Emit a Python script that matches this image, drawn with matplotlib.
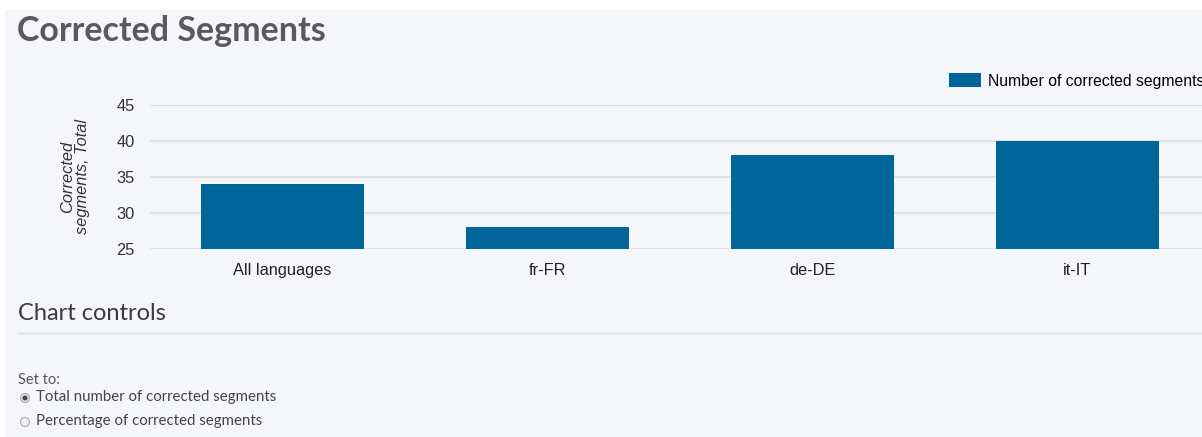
import matplotlib.pyplot as plt
from matplotlib.patches import Rectangle, Circle

languages = ["All languages", "fr-FR", "de-DE", "it-IT"]
corrected = [34, 28, 38, 40]
yticks = [25, 30, 35, 40, 45]
series_name = "Number of corrected segments"

W, H = 1202, 437
bg = "#f4f6f9"
bar_col = "#006699"
fs = 11.8

fig = plt.figure(figsize=(W / 100, H / 100), dpi=100, facecolor="white")

# page overlay in pixel coordinates
page = fig.add_axes([0, 0, 1, 1])
page.set_xlim(0, W)
page.set_ylim(H, 0)
page.axis("off")
page.add_patch(Rectangle((5, 10), W, H, color=bg, zorder=0))
page.text(17, 31, "Corrected Segments", fontsize=24.5, fontweight="bold",
          family="Lato", color="#5a5a5a", va="center")
page.text(18, 314, "Chart controls", fontsize=17, family="Lato",
          color="#3a3a3a", va="center")
page.plot([18, W], [333, 333], color="#dcdfe3", lw=1)
page.text(18, 380, "Set to:", fontsize=10.5, family="Lato", color="#555555", va="center")
page.add_patch(Circle((25, 398), 4.5, facecolor="#e8e8e8", edgecolor="#aaaaaa", lw=0.8))
page.add_patch(Circle((25, 398), 1.8, color="#444444"))
page.text(36, 397, "Total number of corrected segments", fontsize=10.8,
          family="Lato", color="#444444", va="center")
page.add_patch(Circle((25, 422), 4.5, facecolor="#eeeeee", edgecolor="#aaaaaa", lw=0.8))
page.text(36, 421, "Percentage of corrected segments", fontsize=10.8,
          family="Lato", color="#444444", va="center")

# bar chart
ax = fig.add_axes([150 / W, 1 - 249 / H, 1060 / W, 144 / H])
ax.set_facecolor(bg)
x = range(len(languages))
ax.bar(x, [v - yticks[0] for v in corrected], bottom=yticks[0], width=0.615,
       color=bar_col, label=series_name, zorder=3)
ax.set_xlim(-0.5, len(languages) - 0.5)
ax.set_ylim(yticks[0], yticks[-1])
ax.set_yticks(yticks)
ax.set_xticks(list(x))
ax.set_xticklabels(languages, family="Liberation Sans", fontsize=fs, color="#222222")
for lbl in ax.get_yticklabels():
    lbl.set_family("Liberation Sans")
    lbl.set_fontsize(fs)
    lbl.set_color("#333333")
ax.tick_params(axis="y", length=0, pad=11)
ax.tick_params(axis="x", length=0, pad=10)
ax.grid(axis="y", color="#dfe1e4", lw=1.5, zorder=0)
for s in ax.spines.values():
    s.set_visible(False)
ax.set_ylabel("Corrected\nsegments, Total", family="Liberation Sans", style="italic",
              fontsize=fs, color="#333333", labelpad=19, linespacing=1.0)
ax.legend(loc="upper left", bbox_to_anchor=(793 / 1060, 1.265), frameon=False,
          prop={"family": "Liberation Sans", "size": 11.3}, handlelength=2.0,
          handleheight=1.0, handletextpad=0.45, borderaxespad=0)

fig.savefig("out.png", dpi=100, facecolor="white")
